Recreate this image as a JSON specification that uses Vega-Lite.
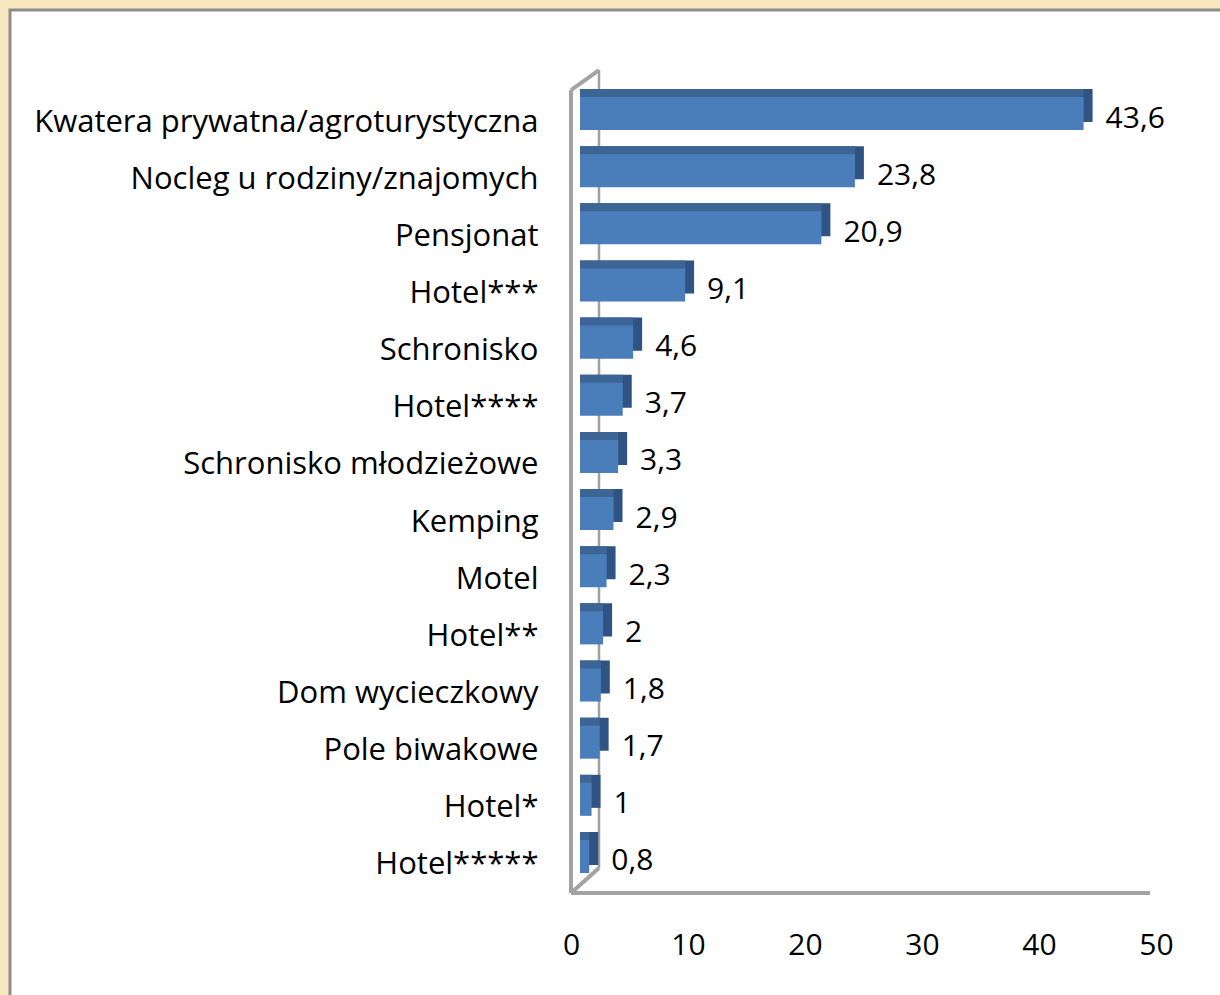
{
  "$schema": "https://vega.github.io/schema/vega-lite/v6.json",
  "width": 1215,
  "height": 990,
  "autosize": {"type": "none"},
  "padding": {"left": 10, "top": 10, "right": 0, "bottom": 0},
  "background": "#f7e8c0",
  "config": {
    "view": {"fill": "white", "stroke": "#8c8c8c", "strokeWidth": 3},
    "axis": {"grid": false},
    "font": "Open Sans"
  },
  "datasets": {
    "bars": [
      {"cat": "Kwatera prywatna/agroturystyczna", "value": 43.6, "label": "43,6"},
      {"cat": "Nocleg u rodziny/znajomych", "value": 23.8, "label": "23,8"},
      {"cat": "Pensjonat", "value": 20.9, "label": "20,9"},
      {"cat": "Hotel***", "value": 9.1, "label": "9,1"},
      {"cat": "Schronisko", "value": 4.6, "label": "4,6"},
      {"cat": "Hotel****", "value": 3.7, "label": "3,7"},
      {"cat": "Schronisko młodzieżowe", "value": 3.3, "label": "3,3"},
      {"cat": "Kemping", "value": 2.9, "label": "2,9"},
      {"cat": "Motel", "value": 2.3, "label": "2,3"},
      {"cat": "Hotel**", "value": 2, "label": "2"},
      {"cat": "Dom wycieczkowy", "value": 1.8, "label": "1,8"},
      {"cat": "Pole biwakowe", "value": 1.7, "label": "1,7"},
      {"cat": "Hotel*", "value": 1, "label": "1"},
      {"cat": "Hotel*****", "value": 0.8, "label": "0,8"}
    ],
    "wall": [
      {"x0": 0, "y0": 0, "x1": 0, "y1": 100},
      {"x0": 0, "y0": 100, "x1": 2.393, "y1": 102.49},
      {"x0": 0, "y0": 0, "x1": 2.393, "y1": 3.11},
      {"x0": 0, "y0": 0, "x1": 49.49, "y1": 0}
    ],
    "back": [
      {"x0": 2.393, "y0": 3.11, "x1": 2.393, "y1": 102.49}
    ]
  },
  "resolve": {
    "scale": {"x": "independent", "y": "independent"},
    "axis": {"x": "independent", "y": "independent"}
  },
  "layer": [
    {
      "data": {"name": "back"},
      "mark": {"type": "rule", "color": "#a0a0a0", "strokeWidth": 2.5},
      "encoding": {
        "x": {"field": "x0", "type": "quantitative", "scale": {"domain": [-47.949, 55.897], "nice": false, "zero": false}, "axis": null},
        "x2": {"field": "x1"},
        "y": {"field": "y0", "type": "quantitative", "scale": {"domain": [-13.325, 109.963], "nice": false, "zero": false}, "axis": null},
        "y2": {"field": "y1"}
      }
    },
    {
      "data": {"name": "wall"},
      "mark": {"type": "rule", "color": "#a3a3a3", "strokeWidth": 4},
      "encoding": {
        "x": {"field": "x0", "type": "quantitative", "scale": {"domain": [-47.949, 55.897], "nice": false, "zero": false},
          "axis": {"values": [0, 10, 20, 30, 40, 50], "orient": "bottom", "offset": -55, "domain": false, "ticks": false, "tickSize": 0, "labelPadding": 0, "labelBaseline": "middle", "labelFontSize": 30, "labelFont": "Open Sans", "labelColor": "#000000", "title": null, "labelFlush": false, "labelOverlap": false}},
        "x2": {"field": "x1"},
        "y": {"field": "y0", "type": "quantitative", "scale": {"domain": [-13.325, 109.963], "nice": false, "zero": false}, "axis": null},
        "y2": {"field": "y1"}
      }
    },
    {
      "data": {"name": "bars"},
      "mark": {"type": "bar", "color": "#2f5383", "xOffset": 9, "yOffset": -8},
      "encoding": {
        "y": {"field": "cat", "type": "nominal", "sort": null, "scale": {"type": "band", "range": [87, 863], "paddingInner": 0.4221, "paddingOuter": 0, "round": false}, "axis": null},
        "x": {"field": "value", "type": "quantitative", "scale": {"domain": [-49.351, 55.844], "nice": false, "zero": false}, "axis": null},
        "x2": {"datum": 0}
      }
    },
    {
      "data": {"name": "bars"},
      "mark": {"type": "bar", "color": "#3c6595", "yOffset": -8},
      "encoding": {
        "y": {"field": "cat", "type": "nominal", "sort": null, "scale": {"type": "band", "range": [87, 863], "paddingInner": 0.4221, "paddingOuter": 0, "round": false}, "axis": null},
        "x": {"field": "value", "type": "quantitative", "scale": {"domain": [-49.351, 55.844], "nice": false, "zero": false}, "axis": null},
        "x2": {"datum": 0}
      }
    },
    {
      "data": {"name": "bars"},
      "mark": {"type": "bar", "color": "#4a7ebb"},
      "encoding": {
        "y": {"field": "cat", "type": "nominal", "sort": null, "scale": {"type": "band", "range": [87, 863], "paddingInner": 0.4221, "paddingOuter": 0, "round": false},
          "axis": {"orient": "left", "offset": -560, "domain": false, "ticks": false, "tickSize": 0, "labelPadding": 32, "labelOffset": 9, "labelBaseline": "middle", "labelAlign": "right", "labelFontSize": 31, "labelFont": "Open Sans", "labelColor": "#000000", "labelLimit": 0, "title": null}},
        "x": {"field": "value", "type": "quantitative", "scale": {"domain": [-49.351, 55.844], "nice": false, "zero": false}, "axis": null},
        "x2": {"datum": 0}
      }
    },
    {
      "data": {"name": "bars"},
      "mark": {"type": "text", "align": "left", "baseline": "middle", "dx": 22, "dy": 5, "fontSize": 30, "font": "Open Sans", "color": "#000000"},
      "encoding": {
        "y": {"field": "cat", "type": "nominal", "sort": null, "scale": {"type": "band", "range": [87, 863], "paddingInner": 0.4221, "paddingOuter": 0, "round": false}, "axis": null},
        "x": {"field": "value", "type": "quantitative", "scale": {"domain": [-49.351, 55.844], "nice": false, "zero": false}, "axis": null},
        "text": {"field": "label"}
      }
    }
  ]
}
